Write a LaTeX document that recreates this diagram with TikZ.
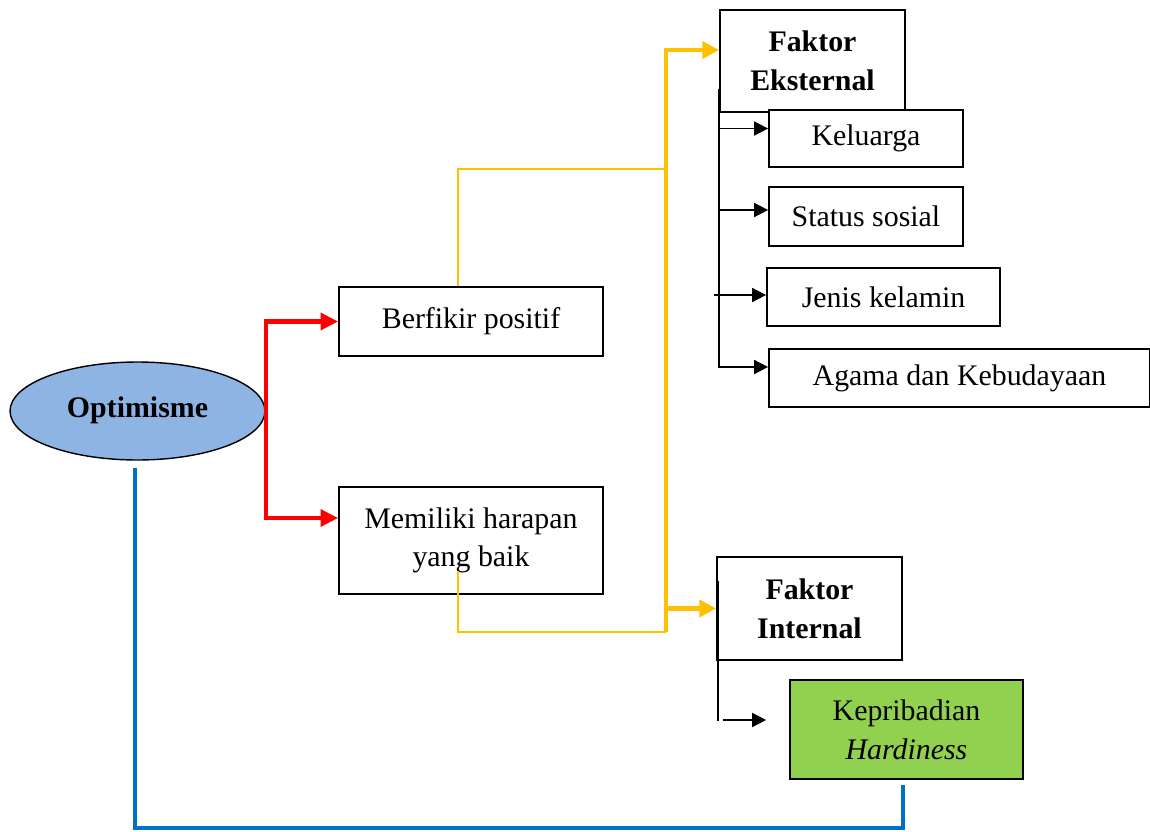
\documentclass[tikz,border=0pt]{standalone}
\usepackage{fontspec}
\setmainfont{Liberation Serif}
\usetikzlibrary{arrows.meta,shapes.geometric}
\definecolor{optblue}{HTML}{8EB4E3}
\definecolor{kepgreen}{HTML}{92D050}
\definecolor{lineyel}{HTML}{FFC000}
\definecolor{lineblue}{HTML}{0070C0}
\begin{document}
\begin{tikzpicture}[x=0.02cm,y=-0.02cm,
  font=\fontsize{17}{22}\selectfont,
  box/.style={draw,line width=1pt,fill=white,align=center,inner sep=2pt},
  redarrow/.style={draw=red,line width=2.4pt,-{Triangle[length=10pt,width=9.5pt]}},
  yelarrow/.style={draw=lineyel,line width=2.6pt,-{Triangle[length=9.5pt,width=9.5pt]}},
  yelthin/.style={draw=lineyel,line width=0.9pt},
  blk/.style={draw,line width=0.9pt},
  tip/.style={blk,-{Triangle[length=8pt,width=8pt]}},
  blueline/.style={draw=lineblue,line width=2.8pt}]
\useasboundingbox (0,0) rectangle (1150,832);

\node[ellipse,draw,line width=0.8pt,fill=optblue,minimum width=5.1cm,minimum height=1.96cm,inner sep=0pt]
  (opt) at (137.5,411) {\raisebox{0.15cm}{\textbf{Optimisme}}};

\node[box,minimum width=5.28cm,minimum height=1.38cm] (berf) at (471,321.5) {Berfikir positif};
\node[box,minimum width=5.28cm,minimum height=2.14cm] (harap) at (471,540.5) {Memiliki harapan\\yang baik};

\node[box,minimum width=3.7cm,minimum height=2.04cm] (ekst) at (812.5,61) {\textbf{Faktor}\\\textbf{Eksternal}};
\node[box,minimum width=3.88cm,minimum height=1.14cm] (kel) at (866,138.5) {Keluarga};
\node[box,minimum width=3.88cm,minimum height=1.18cm] (stat) at (866,216.5) {Status sosial};
\node[box,minimum width=4.66cm,minimum height=1.16cm] (jen) at (883.5,297) {Jenis kelamin};
\node[box,minimum width=7.62cm,minimum height=1.16cm] (aga) at (959.5,378) {Agama dan Kebudayaan};

\node[box,minimum width=3.7cm,minimum height=2.06cm] (intl) at (809.5,608.5) {\textbf{Faktor}\\\textbf{Internal}};
\node[box,fill=kepgreen,minimum width=4.66cm,minimum height=1.98cm] (kep) at (906.5,729.5) {Kepribadian\\\textit{Hardiness}};

\draw[redarrow] (opt.east) |- (berf.west);
\draw[redarrow] (opt.east) |- ([yshift=0.45cm]harap.west);

\coordinate (ybot) at (666,632);
\coordinate (ymid) at (666,169);
\draw[yelthin] ([xshift=-0.26cm]berf.north) |- (ymid);
\draw[yelthin] ([xshift=-0.26cm,yshift=-0.61cm]harap.center) |- (ybot);
\draw[yelarrow] (ybot) |- ([yshift=0.22cm]ekst.west);
\draw[yelarrow] (ybot |- intl.west) -- (intl.west);

\draw[tip] ([yshift=0.48cm]ekst.south west) |- ([yshift=0.22cm]aga.west);
\draw[tip] (kel.west) ++(-50,-10) -- ++(50,0);
\draw[tip] (stat.west) ++(-50,-6.5) -- ++(50,0);
\draw[tip] (jen.west) ++(-52,-2) -- ++(52,0);

\draw[blk] (intl.west) ++(2,-28) -- ++(0,140);
\draw[tip] (kep.west) ++(-66,-9.5) -- ++(43,0);

\draw[blueline] ([xshift=-0.05cm,yshift=-0.14cm]opt.south) -- ([xshift=-0.05cm]opt.south |- 0,828)
  -| ([xshift=-0.07cm,yshift=-0.1cm]kep.south);

\end{tikzpicture}
\end{document}
